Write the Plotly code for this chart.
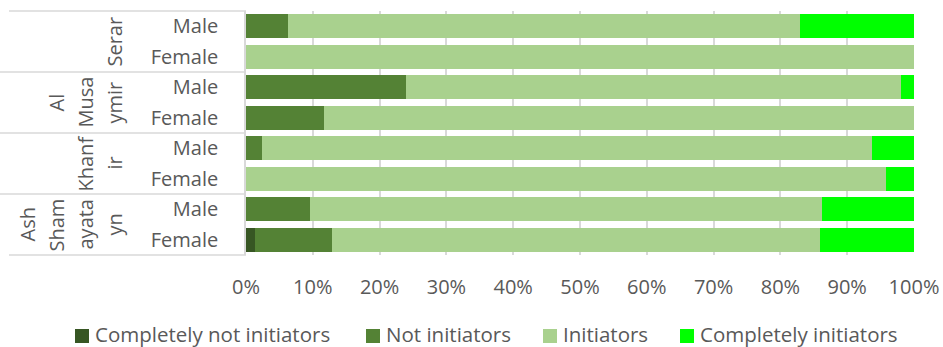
import plotly.graph_objects as go

# Survey groups (top to bottom) and sex within each group
groups = ["Serar", "Al Musaymir", "Khanfir", "Ash Shamayatayn"]
group_lines = [["Serar"], ["Al", "Musa", "ymir"], ["Khanf", "ir"], ["Ash", "Sham", "ayata", "yn"]]
sexes = ["Male", "Female"]

# Share of respondents (%) per response, rows ordered top to bottom
completely_not_initiators = [0.0, 0.0, 0.0, 0.0, 0.0, 0.0, 0.0, 1.3]
not_initiators = [6.3, 0.0, 24.0, 11.7, 2.4, 0.0, 9.6, 11.5]
initiators = [76.6, 100.0, 74.1, 88.3, 91.3, 95.8, 76.6, 73.1]
completely_initiators = [17.1, 0.0, 1.9, 0.0, 6.3, 4.2, 13.8, 14.1]

series_names = ["Completely not initiators", "Not initiators", "Initiators", "Completely initiators"]
series_values = [completely_not_initiators, not_initiators, initiators, completely_initiators]
series_colors = ["#375623", "#548235", "#A9D18E", "#00FF00"]

x_ticks = list(range(0, 101, 10))

FONT = "Open Sans"
TEXT = "#595959"
GRID = "#D9D9D9"

W, H = 943, 347
L, R, T, B = 246, 29, 11, 92
plot_w = W - L - R
plot_h = H - T - B

rows = [f"{g} {s}" for g in groups for s in sexes]
row_pos = list(range(len(rows)))
row_text = [s for _ in groups for s in sexes]

fig = go.Figure()
for name, vals, color in zip(series_names, series_values, series_colors):
    fig.add_trace(go.Bar(
        name=name, x=vals, y=row_pos, orientation="h",
        marker=dict(color=color, line=dict(width=0)),
        width=0.79, showlegend=False,
    ))


def px_to_paper_x(px):
    return (px - L) / plot_w


def px_to_paper_y(py):
    return (H - B - py) / plot_h


# Group labels, rotated and wrapped in a column left of the sex labels
n_groups = len(groups)
shapes = []
annotations = []
for gi, lines in enumerate(group_lines):
    y_center = 1 - (gi + 0.5) / n_groups
    n = len(lines)
    for li, line in enumerate(lines):
        cx = 114 - (n - 1 - li) * 29
        annotations.append(dict(
            x=px_to_paper_x(cx), y=y_center, xref="paper", yref="paper",
            text=line, showarrow=False, textangle=-90,
            xanchor="center", yanchor="middle",
            font=dict(family=FONT, size=20, color=TEXT),
        ))

# Separator lines of the category table
for k in range(n_groups + 1):
    y = 1 - k / n_groups
    x0 = px_to_paper_x(9) if k in (0, n_groups) else px_to_paper_x(0)
    shapes.append(dict(
        type="line", xref="paper", yref="paper", x0=x0, x1=0, y0=y, y1=y,
        line=dict(color=GRID, width=1.5), layer="below",
    ))

# Legend row below the chart: colour key squares with their labels
legend_square_x = [75, 366, 543, 680]
square_y = 336
label_y = 333.5
for sx, name, color in zip(legend_square_x, series_names, series_colors):
    shapes.append(dict(
        type="rect", xref="paper", yref="paper",
        x0=px_to_paper_x(sx), x1=px_to_paper_x(sx + 14),
        y0=px_to_paper_y(square_y + 7), y1=px_to_paper_y(square_y - 7),
        fillcolor=color, line=dict(width=0),
    ))
    annotations.append(dict(
        x=px_to_paper_x(sx + 19), y=px_to_paper_y(label_y),
        xref="paper", yref="paper", text=name, showarrow=False,
        xanchor="left", yanchor="middle", borderpad=0,
        font=dict(family=FONT, size=20.5, color=TEXT),
    ))

fig.update_layout(
    width=W, height=H,
    margin=dict(l=L, r=R, t=T, b=B, pad=0, autoexpand=False),
    barmode="stack",
    paper_bgcolor="white", plot_bgcolor="white",
    font=dict(family=FONT, size=20, color=TEXT),
    xaxis=dict(
        range=[0, 100], tickvals=x_ticks, ticktext=[f"{v}%" for v in x_ticks],
        showgrid=True, gridcolor=GRID, gridwidth=1.5,
        zeroline=False, showline=False, ticks="",
        ticklabelstandoff=18, automargin=False,
        tickfont=dict(family=FONT, size=20, color=TEXT),
        fixedrange=True,
    ),
    yaxis=dict(
        range=[len(rows) - 0.5, -0.5], tickvals=row_pos, ticktext=row_text,
        showgrid=False, zeroline=False, showline=True, linecolor=GRID, linewidth=1.5,
        ticks="", ticklabelstandoff=22, automargin=False,
        tickfont=dict(family=FONT, size=20, color=TEXT),
        fixedrange=True,
    ),
    showlegend=False,
    shapes=shapes,
    annotations=annotations,
)

fig.write_html("out.html")
